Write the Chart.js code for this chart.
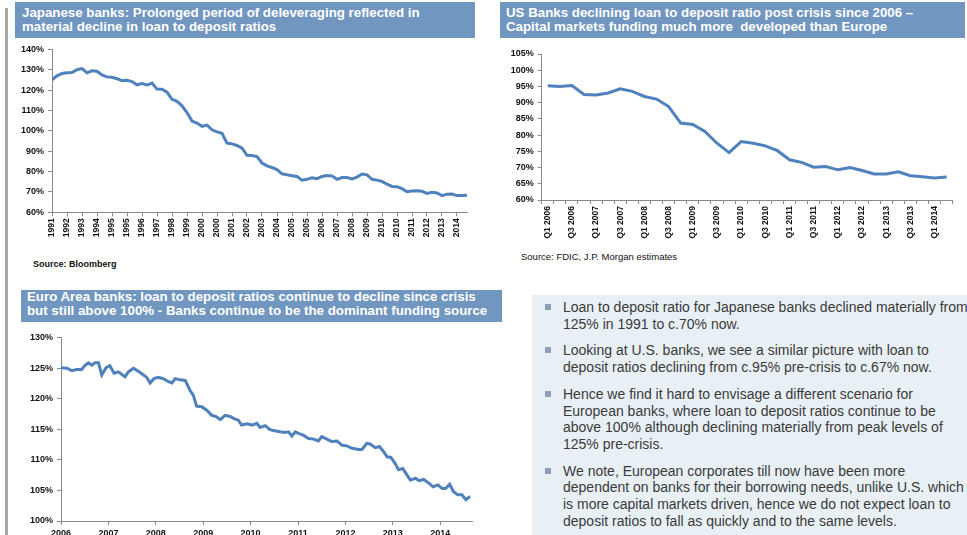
<!DOCTYPE html>
<html>
<head>
<meta charset="utf-8">
<script src="https://cdn.jsdelivr.net/npm/chart.js@4.4.1/dist/chart.umd.min.js"></script>
<style>
  html, body { margin: 0; padding: 0; background: #fff; }
  body { width: 967px; height: 535px; overflow: hidden; position: relative; font-family: Arial, "Liberation Sans", sans-serif; }
  .bar { position: absolute; left: 5px; top: 8px; width: 3px; height: 527px; background: #a9a9a9; }
  .banner { position: absolute; background: #7196c0; color: #fff; font-weight: bold; font-size: 13.3px; white-space: nowrap; box-sizing: border-box; }
  .src { position: absolute; font-size: 9px; color: #111; white-space: nowrap; }
  canvas { position: absolute; }
  .box { position: absolute; left: 532px; top: 295px; width: 450px; height: 250px; background: #e8f0f5; box-sizing: border-box; padding: 4px 0 0 0; }
  .box ul { list-style: none; margin: 0; padding: 0; }
  .box li { position: relative; padding-left: 31px; margin-bottom: 10px; font-size: 14px; line-height: 16.7px; color: #3a3a3a; white-space: nowrap; }
  .box li::before { content: ""; position: absolute; left: 13px; top: 5px; width: 6px; height: 6px; background: #8c9fb6; }
</style>
</head>
<body>
<div class="bar"></div>

<div class="banner" style="left:15px; top:2px; width:460px; height:36px; padding:4px 0 0 7px; line-height:13.8px;">Japanese banks: Prolonged period of deleveraging reflected in<br>material decline in loan to deposit ratios</div>
<div class="banner" style="left:500px; top:2px; width:465px; height:36px; padding:4px 0 0 6px; line-height:13.8px;">US Banks declining loan to deposit ratio post crisis since 2006 &ndash;<br>Capital markets funding much more&nbsp; developed than Europe</div>
<div class="banner" style="left:21px; top:290px; width:481px; height:32px; padding:0 0 0 6px; line-height:14.3px;">Euro Area banks: loan to deposit ratios continue to decline since crisis<br>but still above 100% - Banks continue to be the dominant funding source</div>

<canvas id="jpChart" width="470" height="210" style="left:10px; top:40px;"></canvas>
<canvas id="usChart" width="470" height="200" style="left:495px; top:42px;"></canvas>
<canvas id="euChart" width="475" height="210" style="left:10px; top:325px;"></canvas>

<div class="src" style="left:33px; top:259px; font-weight:bold;">Source: Bloomberg</div>
<div class="src" style="left:521px; top:251px; font-size:9.5px;">Source: FDIC, J.P. Morgan estimates</div>

<div class="box">
  <ul>
    <li>Loan to deposit ratio for Japanese banks declined materially from<br>125% in 1991 to c.70% now.</li>
    <li>Looking at U.S. banks, we see a similar picture with loan to<br>deposit ratios declining from c.95% pre-crisis to c.67% now.</li>
    <li>Hence we find it hard to envisage a different scenario for<br>European banks, where loan to deposit ratios continue to be<br>above 100% although declining materially from peak levels of<br>125% pre-crisis.</li>
    <li>We note, European corporates till now have been more<br>dependent on banks for their borrowing needs, unlike U.S. which<br>is more capital markets driven, hence we do not expect loan to<br>deposit ratios to fall as quickly and to the same levels.</li>
  </ul>
</div>

<script>
// Japanese banks, loan to deposit ratio (%), read every third of a label step
const jpLabels = ["1991","1992","1993","1994","1995","1995","1996","1997","1998","1999",
  "2000","2000","2001","2002","2003","2004","2005","2005","2006","2007",
  "2008","2009","2010","2010","2011","2012","2013","2014"];
const jpValues = [125,127,128.2,128.5,128.6,130,130.6,128.5,129.5,129.3,
  127.5,126.5,126.3,125.6,124.6,124.8,124.2,122.6,123.2,122.5,
  123.5,120.5,120.4,119,115.5,114.5,112.3,109,104.8,103.8,
  102.2,102.8,100.5,99.5,98.8,94,93.6,92.8,91.5,88,
  87.9,87.4,84.2,82.8,82,81,78.9,78.4,78,77.6,
  75.8,76.2,77,76.5,77.6,78.1,77.9,76.2,77.1,77.1,
  76.4,77.3,78.8,78.4,76.2,75.8,75.2,73.8,72.7,72.6,
  71.6,70.1,70.5,70.6,70.3,69.3,69.8,69.5,68.2,68.9,
  69,68.2,68.2,68.4];

// US banks, quarterly Q1 2006 - Q2 2014
const usQuarters = [];
for (let y = 2006; y <= 2014; y++) for (let q = 1; q <= 4; q++) if (!(y === 2014 && q > 2)) usQuarters.push("Q" + q + " " + y);
const usValues = [95.2,95.0,95.3,92.5,92.4,93.0,94.3,93.5,91.9,91.1,
  88.8,83.7,83.3,81.1,77.5,74.6,78.0,77.5,76.7,75.2,
  72.4,71.6,70.1,70.3,69.3,70.0,69.1,68.0,68.0,68.7,
  67.5,67.2,66.8,67.1];

// Euro area banks, date (decimal year) and ratio (%)
const euDates = [2006.00,2006.12,2006.23,2006.33,2006.44,2006.51,2006.58,2006.65,2006.72,2006.79,
  2006.86,2006.95,2007.03,2007.12,2007.21,2007.35,2007.42,2007.53,2007.63,2007.74,
  2007.81,2007.88,2007.96,2008.05,2008.16,2008.27,2008.34,2008.41,2008.51,2008.62,
  2008.72,2008.79,2008.86,2008.97,2009.08,2009.18,2009.27,2009.36,2009.46,2009.57,
  2009.64,2009.74,2009.81,2009.92,2010.03,2010.13,2010.20,2010.31,2010.40,2010.48,
  2010.62,2010.73,2010.80,2010.87,2010.94,2011.05,2011.12,2011.22,2011.33,2011.43,
  2011.50,2011.61,2011.71,2011.82,2011.93,2012.03,2012.14,2012.28,2012.35,2012.45,
  2012.52,2012.63,2012.72,2012.81,2012.88,2012.96,2013.05,2013.12,2013.21,2013.30,
  2013.37,2013.48,2013.55,2013.65,2013.76,2013.85,2013.95,2014.04,2014.11,2014.20,
  2014.28,2014.37,2014.46,2014.54,2014.63];
const euValues = [125.1,125,124.6,124.8,124.8,125.5,125.9,125.5,125.9,125.9,
  123.9,125.1,125.4,124.2,124.4,123.6,124.4,125,124.5,123.9,
  123.5,122.6,123.3,123.5,123.3,122.8,122.6,123.3,123.1,123,
  121.4,120.6,118.8,118.7,118.1,117.3,117.1,116.6,117.3,117.1,
  116.8,116.5,115.7,115.9,115.7,116,115.3,115.6,115,114.8,
  114.6,114.5,114.6,113.9,114.6,114.2,114,113.5,113.4,113.1,
  113.8,113.4,113,113.1,112.4,112.3,111.9,111.7,111.7,112.7,
  112.6,112,112.2,111.3,110.5,110.4,109.4,108.4,108.6,107.5,
  106.7,107,106.6,106.8,106.2,105.6,105.9,105.3,105.3,106,
  104.8,104.3,104.3,103.5,104];
const euYears = [2006,2007,2008,2009,2010,2011,2012,2013,2014];

const FONT = 'Arial, "Liberation Sans", sans-serif';
const LINE = "#4f81bd";
const AXIS = "#8a8a8a";

function yAxis(min, max, step, width) {
  return {
    min, max,
    afterFit: (s) => { s.width = width; },
    ticks: { stepSize: step, color: "#111", padding: 4, font: { family: FONT, size: 9, weight: "bold" }, callback: (v) => v + "%" },
    grid: { drawOnChartArea: false, color: AXIS, tickLength: 4 },
    border: { color: AXIS }
  };
}

function baseOptions(scales, pad) {
  return {
    responsive: false,
    animation: false,
    layout: { padding: pad },
    plugins: { legend: { display: false }, tooltip: { enabled: false } },
    elements: { point: { radius: 0 }, line: { borderWidth: 3, borderColor: LINE, tension: 0 } },
    scales
  };
}

new Chart(document.getElementById("jpChart"), {
  type: "line",
  data: { datasets: [{ data: jpValues.map((v, i) => ({ x: i / 3, y: v })), borderColor: LINE }] },
  options: baseOptions({
    x: {
      type: "linear", min: 0, max: (jpValues.length - 1) / 3,
      afterFit: (s) => { s.height = 37.7; },
      ticks: { stepSize: 1, includeBounds: false, autoSkip: false, maxRotation: 90, minRotation: 90, padding: 2,
        color: "#111", font: { family: FONT, size: 8.5, weight: "bold" }, callback: (v) => jpLabels[v] ?? "" },
      grid: { drawOnChartArea: false, color: AXIS, tickLength: 4 },
      border: { color: AXIS }
    },
    y: yAxis(60, 140, 10, 42)
  }, { top: 9.3, right: 13, left: 0, bottom: 0 })
});

new Chart(document.getElementById("usChart"), {
  type: "line",
  data: { labels: usQuarters, datasets: [{ data: usValues, borderColor: LINE }] },
  options: baseOptions({
    x: {
      type: "category", offset: true,
      afterFit: (s) => { s.height = 42; },
      ticks: { autoSkip: false, maxRotation: 90, minRotation: 90, padding: 2,
        color: "#111", font: { family: FONT, size: 8.5, weight: "bold" },
        callback: (v, i) => (i % 2 === 0 ? usQuarters[i] : "") },
      grid: { drawOnChartArea: false, offset: true, color: AXIS, tickLength: 4 },
      border: { color: AXIS }
    },
    y: yAxis(60, 105, 5, 46.7)
  }, { top: 12, right: 12.3, left: 0, bottom: 0 })
});

new Chart(document.getElementById("euChart"), {
  type: "line",
  data: { datasets: [{ data: euValues.map((v, i) => ({ x: euDates[i], y: v })), borderColor: LINE }] },
  options: baseOptions({
    x: {
      type: "linear", min: 2006, max: 2014.67,
      afterFit: (s) => { s.height = 14; },
      ticks: { stepSize: 1, includeBounds: false, maxRotation: 0, minRotation: 0, padding: 3,
        color: "#111", font: { family: FONT, size: 9, weight: "bold" },
        callback: (v) => (euYears.includes(v) ? String(v) : "") },
      grid: { drawOnChartArea: false, color: AXIS, tickLength: 4 },
      border: { color: AXIS }
    },
    y: yAxis(100, 130, 5, 51)
  }, { top: 12.7, right: 13, left: 0, bottom: 0 })
});
</script>
</body>
</html>
